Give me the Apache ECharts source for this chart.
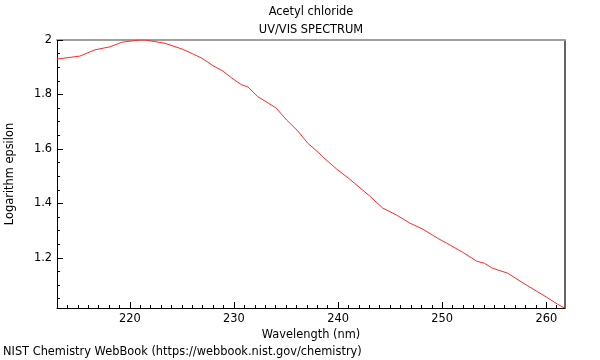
<!DOCTYPE html>
<html>
<head>
<meta charset="utf-8">
<script src="https://cdn.jsdelivr.net/npm/echarts@6/dist/echarts.min.js"></script>
<style>html,body{margin:0;padding:0;background:#fff}#c{width:600px;height:360px}</style>
</head>
<body>
<div id="c"></div>
<script>
var wavelength = [213.0, 215.2, 216.65, 218.1, 219.25, 220.97, 221.45, 223.37, 225.0, 226.05, 226.92, 227.97, 228.93, 229.8, 230.76, 231.33, 232.29, 233.15, 234.02, 235.07, 236.13, 237.09, 238.14, 238.53, 239.87, 241.12, 243.04, 244.29, 245.63, 246.88, 248.12, 249.66, 250.43, 251.96, 253.31, 254.07, 254.84, 256.28, 258.1, 260.02, 261.08, 261.75];
var logEpsilon = [1.930, 1.941, 1.964, 1.975, 1.992, 2.000, 2.000, 1.988, 1.967, 1.949, 1.933, 1.906, 1.886, 1.860, 1.835, 1.828, 1.792, 1.772, 1.751, 1.706, 1.666, 1.621, 1.586, 1.571, 1.526, 1.489, 1.427, 1.383, 1.357, 1.328, 1.306, 1.270, 1.254, 1.221, 1.188, 1.180, 1.162, 1.144, 1.100, 1.056, 1.030, 1.016];
var xMajorTicks = [220, 230, 240, 250, 260];
var xMinorTicks = [214, 215, 216, 217, 218, 219, 221, 222, 223, 224, 225, 226, 227, 228, 229, 231, 232, 233, 234, 235, 236, 237, 238, 239, 241, 242, 243, 244, 245, 246, 247, 248, 249, 251, 252, 253, 254, 255, 256, 257, 258, 259, 261];
var yMajorTicks = [1.2, 1.4, 1.6, 1.8, 2];
var yMinorTicks = [1.05, 1.1, 1.15, 1.25, 1.3, 1.35, 1.45, 1.5, 1.55, 1.65, 1.7, 1.75, 1.85, 1.9, 1.95];
var xRange = [213, 261.8];
var yRange = [1.016, 2];

var FONT = 'DejaVu Sans';
var FS = 11.4;
var chart = echarts.init(document.getElementById('c'), null, {renderer: 'canvas'});
var data = wavelength.map(function (w, i) { return [w, logEpsilon[i]]; });

function hiddenAxis(extra) {
  return Object.assign({
    type: 'value',
    axisLabel: {show: false}, splitLine: {show: false},
    axisTick: {show: false}, minorTick: {show: false}
  }, extra);
}

chart.setOption({
  animation: false,
  backgroundColor: '#fff',
  grid: {left: 57, right: 35, top: 40, bottom: 52, containLabel: false, outerBoundsMode: 'none'},
  graphic: [
    {type: 'text', x: 311, y: 12, style: {text: 'Acetyl chloride', font: FS + 'px ' + FONT, fill: '#000', textAlign: 'center', textVerticalAlign: 'middle'}},
    {type: 'text', x: 311, y: 30, style: {text: 'UV/VIS SPECTRUM', font: FS + 'px ' + FONT, fill: '#000', textAlign: 'center', textVerticalAlign: 'middle'}},
    {type: 'text', x: 3, y: 352, style: {text: 'NIST Chemistry WebBook (https://webbook.nist.gov/chemistry)', font: FS + 'px ' + FONT, fill: '#000', textAlign: 'left', textVerticalAlign: 'middle'}}
  ],
  xAxis: [
    {
      type: 'value', min: xRange[0], max: xRange[1], position: 'bottom',
      name: 'Wavelength (nm)', nameLocation: 'middle', nameGap: 19,
      nameTextStyle: {fontFamily: FONT, fontSize: FS, color: '#000'},
      axisLine: {show: true, onZero: false, lineStyle: {color: '#000', width: 1}},
      axisTick: {show: true, inside: true, length: 6, customValues: xMajorTicks, lineStyle: {color: '#000'}},
      axisLabel: {show: true, customValues: xMajorTicks, margin: 6, fontFamily: FONT, fontSize: FS, color: '#000'},
      splitLine: {show: false}
    },
    hiddenAxis({min: xRange[0], max: xRange[1], position: 'bottom',
      axisLine: {show: false, onZero: false},
      axisTick: {show: true, inside: true, length: 3, customValues: xMinorTicks, lineStyle: {color: '#000'}}}),
    hiddenAxis({min: xRange[0], max: xRange[1], position: 'top',
      axisLine: {show: true, onZero: false, lineStyle: {color: '#a0a0a0', width: 2}}})
  ],
  yAxis: [
    {
      type: 'value', min: yRange[0], max: yRange[1], position: 'left',
      name: 'Logarithm epsilon', nameLocation: 'middle', nameGap: 41,
      nameTextStyle: {fontFamily: FONT, fontSize: FS, color: '#000'},
      axisLine: {show: true, onZero: false, lineStyle: {color: '#000', width: 1}},
      axisTick: {show: true, inside: true, length: 6, customValues: yMajorTicks, lineStyle: {color: '#000'}},
      axisLabel: {show: true, customValues: yMajorTicks, margin: 5, fontFamily: FONT, fontSize: FS, color: '#000'},
      splitLine: {show: false}
    },
    hiddenAxis({min: yRange[0], max: yRange[1], position: 'left',
      axisLine: {show: false, onZero: false},
      axisTick: {show: true, inside: true, length: 3, customValues: yMinorTicks, lineStyle: {color: '#000'}}}),
    hiddenAxis({min: yRange[0], max: yRange[1], position: 'right',
      axisLine: {show: true, onZero: false, lineStyle: {color: '#333', width: 1.5}}})
  ],
  series: [{
    type: 'line', data: data, xAxisIndex: 0, yAxisIndex: 0,
    showSymbol: false, symbol: 'none', smooth: false,
    lineStyle: {color: '#ff2a2a', width: 1},
    clip: true
  }]
});
</script>
</body>
</html>
